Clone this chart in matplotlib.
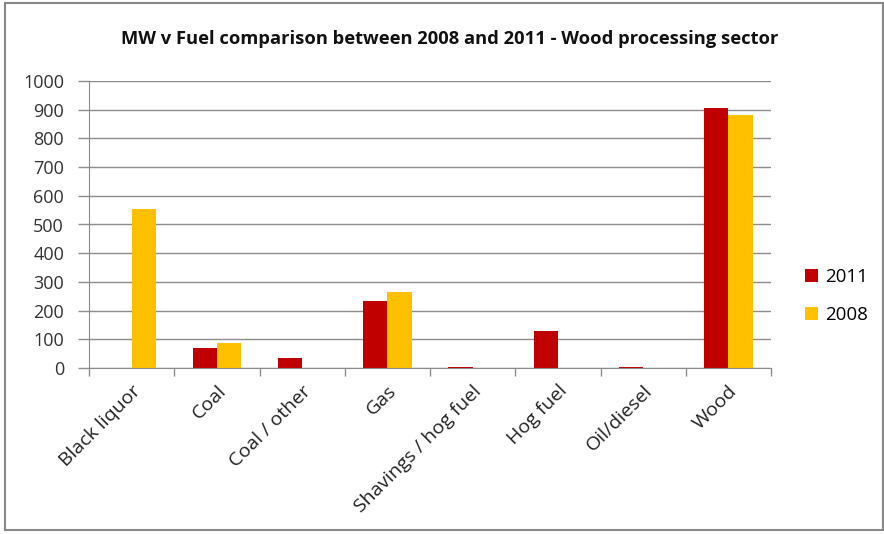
import numpy as np
import matplotlib
matplotlib.use("Agg")
import matplotlib.pyplot as plt
from matplotlib.patches import Rectangle

# Datos
categories = ["Black liquor", "Coal", "Coal / other", "Gas",
              "Shavings / hog fuel", "Hog fuel", "Oil/diesel", "Wood"]
mw_2011 = [0, 70, 35, 233, 5, 130, 5, 905]
mw_2008 = [553, 87, 0, 265, 0, 0, 0, 882]
yticks = list(range(0, 1001, 100))

RED = "#C00000"
YELLOW = "#FFC000"
GRID = "#8C8C8C"

plt.rcParams['font.family'] = ['Open Sans', 'DejaVu Sans']

fig = plt.figure(figsize=(8.84, 5.34), dpi=100)
ax = fig.add_axes([89 / 884, 1 - 368 / 534, (771 - 89) / 884, (368 - 81) / 534])

x = np.arange(len(categories))
w = 1 / 3.5
ax.bar(x - w / 2, mw_2011, width=w, color=RED, label="2011")
ax.bar(x + w / 2, mw_2008, width=w, color=YELLOW, label="2008")

ax.set_xlim(-0.5, len(categories) - 0.5)
ax.set_ylim(0, 1000)
ax.set_yticks(yticks)
ax.set_yticklabels([str(v) for v in yticks], fontsize=13, color="#333333")
ax.yaxis.grid(True, color=GRID, lw=1)
ax.set_axisbelow(True)

# etiquetas de categorías rotadas, ticks en los bordes
ax.set_xticks(x)
ax.set_xticklabels(categories, rotation=45, ha="right", va="top",
                   rotation_mode="anchor", fontsize=14, color="#222222")
ax.tick_params(axis="x", which="major", length=0, pad=10)
ax.set_xticks(np.arange(len(categories) + 1) - 0.5, minor=True)
ax.tick_params(axis="x", which="minor", length=6, color=GRID, width=1)
ax.tick_params(axis="y", length=8, color=GRID, width=1, pad=10)

for side in ["top", "right"]:
    ax.spines[side].set_visible(False)
ax.spines["left"].set_color(GRID)
ax.spines["bottom"].set_color(GRID)

fig.text(450 / 884, 1 - 39 / 534,
         "MW v Fuel comparison between 2008 and 2011 - Wood processing sector",
         fontsize=13.2, fontweight="bold", ha="center", va="center", color="#111111")

leg = ax.legend(loc="center left", bbox_to_anchor=(1.025, 0.25), frameon=False,
                fontsize=13.5, handlelength=0.7, handleheight=0.7,
                labelspacing=1.05, handletextpad=0.4)

# marco gris alrededor de la figura
fig.patches.append(Rectangle((5 / 884, 4 / 534), 1 - 6 / 884, 1 - 7 / 534,
                             transform=fig.transFigure, fill=False,
                             edgecolor="#888888", lw=1.5))

fig.savefig("out.png", dpi=100)
